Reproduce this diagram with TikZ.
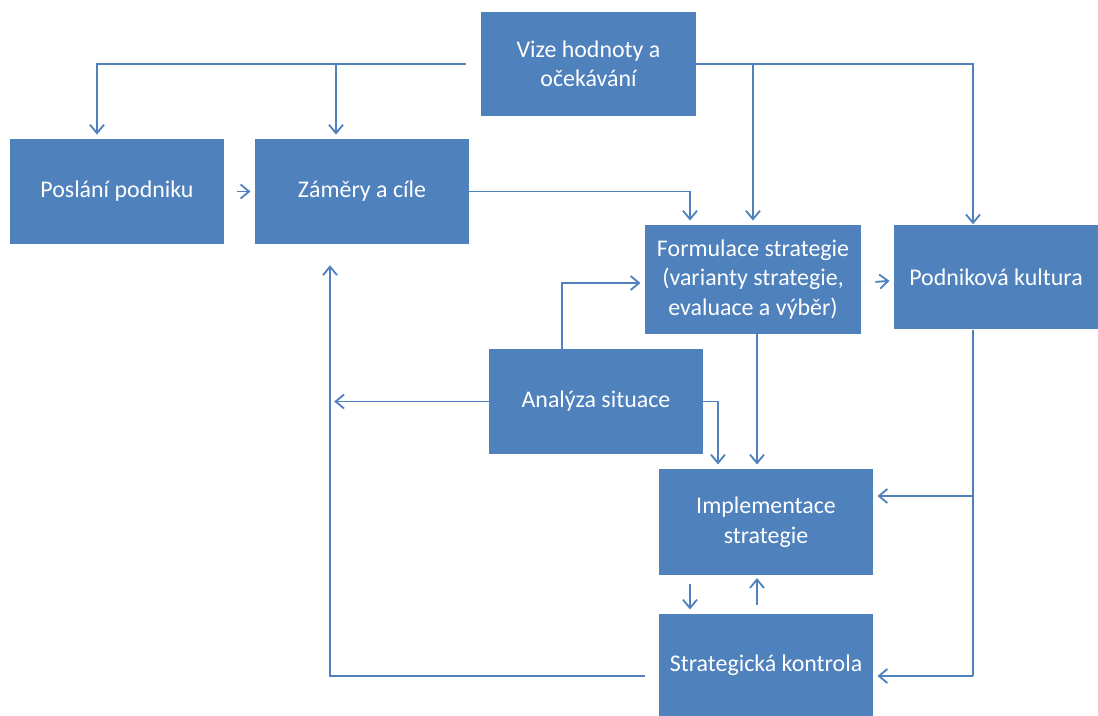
\documentclass[tikz,border=0pt]{standalone}
\usepackage{fontspec}
\setmainfont{Carlito}
\usetikzlibrary{arrows.meta,positioning}
\definecolor{boxblue}{HTML}{4F81BD}

\begin{document}
\begin{tikzpicture}[
    x=0.025cm, y=-0.025cm,
    blk/.style={fill=boxblue, text=white, minimum width=5.35cm, minimum height=2.62cm, align=center, inner sep=2pt, font=\fontsize{17}{21}\selectfont},
    arr/.style={-{Straight Barb[length=6pt, width=10pt]}, line width=1.3pt, boxblue, shorten >=3pt},
    ln/.style={line width=1.3pt, boxblue},
]
\useasboundingbox (0,0) rectangle (1098,716);

% Top
\node[blk] (vize) at (588.5,64) {Vize hodnoty a\\očekávání};

% Mission and goals
\node[blk] (poslani) at (117,191.5) {Poslání podniku};
\node[blk] (zamery) at (362,191.5) {Záměry a cíle};

% Strategy
\node[blk, minimum width=5.4cm, minimum height=2.72cm] (formulace) at (753,279.5) {Formulace strategie\\(varianty strategie,\\evaluace a výběr)};
\node[blk, minimum width=5.1cm] (kultura) at (996,277) {Podniková kultura};
\node[blk] (analyza) at (596,401.5) {Analýza situace};
\node[blk, minimum height=2.65cm] (implementace) at (766,522) {Implementace\\strategie};
\node[blk, minimum height=2.55cm] (kontrola) at (766,665) {Strategická kontrola};

% Helper points
\coordinate (jl) at (336,64);
\coordinate (kx) at (973,676);
\coordinate (ret) at (330,676);

% Arrows - from vision
\draw[arr, shorten <=11pt] (vize.west) -| ([xshift=-0.5cm]poslani.north);
\draw[arr] (jl) -- (jl |- zamery.north);
\draw[arr, shorten >=0pt] (vize.east) -| (kx |- kultura.north);
\draw[arr] (vize.east -| formulace.north) -- (formulace.north);

% Arrows - mission, goals
\draw[arr, shorten <=9pt] (poslani) -- (zamery);
\draw[arr] (zamery.east) -| ([xshift=-1.575cm]formulace.north);

% Arrows - strategy
\draw[arr, shorten <=10pt] (formulace.east) ++(0,3.5) -- ([yshift=-3.5*0.025cm]kultura.west);
\draw[arr] ([xshift=-0.85cm]analyza.north) |- ([yshift=-3.5*0.025cm]formulace.west);
\draw[arr] (analyza.west) -- (analyza.west -| ret);
\draw[arr] (analyza.east) -| ([xshift=-1.2cm]implementace.north);
\draw[arr] ([xshift=0.1cm]formulace.south) -- ([xshift=0.1cm]formulace.south |- implementace.north);

% Arrows - culture
\draw[ln] (kx |- kultura.south) -- (kx);
\draw[arr] (kx |- 0,496) -- (implementace.east |- 0,496);
\draw[arr] (kx) -- (kontrola.east |- kx);

% Arrows - implementation, control
\draw[arr, shorten <=6pt] ([xshift=-1.9cm]implementace.south) -- ([xshift=-1.9cm]kontrola.north);
\draw[arr, shorten <=6pt, shorten >=2pt] ([xshift=-0.225cm]kontrola.north) -- ([xshift=-0.225cm]implementace.south);

% Feedback
\draw[arr, shorten <=10pt, shorten >=15pt] (kontrola.west |- ret) -| (ret |- zamery.south);

\end{tikzpicture}
\end{document}
